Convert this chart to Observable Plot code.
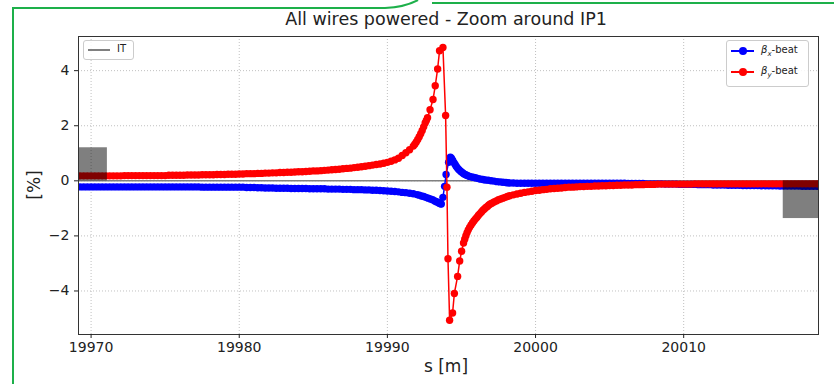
<!DOCTYPE html>
<html><head><meta charset="utf-8">
<script src="https://cdn.jsdelivr.net/npm/d3@7"></script>
<script src="https://cdn.jsdelivr.net/npm/@observablehq/plot@0.6"></script>
<style>
html,body{margin:0;padding:0;background:#fff;}
#wrap{position:relative;width:834px;height:384px;overflow:hidden;font-family:"DejaVu Sans",sans-serif;color:#222;}
#wrap svg{position:absolute;left:0;top:0;}
.lbl{position:absolute;white-space:nowrap;}
.legend{position:absolute;background:rgba(255,255,255,0.85);border:1px solid #cccccc;border-radius:3px;font-size:10px;}
.row{position:absolute;left:0;height:12px;}
.row .ln{position:absolute;top:5px;height:2px;}
.row .mk{position:absolute;top:2px;width:8px;height:8px;border-radius:50%;}
.row .tx{position:absolute;top:-1px;white-space:nowrap;}
</style></head><body><div id="wrap"></div>
<script>
// ---------- data ----------
const sLeft = [
  19969,19969.25,19969.5,19969.75, 19970,19970.25,19970.5,19970.75,
  19971,19971.25,19971.5,19971.75, 19972,19972.25,19972.5,19972.75,
  19973,19973.25,19973.5,19973.75, 19974,19974.25,19974.5,19974.75,
  19975,19975.25,19975.5,19975.75, 19976,19976.25,19976.5,19976.75,
  19977,19977.25,19977.5,19977.75, 19978,19978.25,19978.5,19978.75,
  19979,19979.25,19979.5,19979.75, 19980,19980.25,19980.5,19980.75,
  19981,19981.25,19981.5,19981.75, 19982,19982.25,19982.5,19982.75,
  19983,19983.25,19983.5,19983.75, 19984,19984.25,19984.5,19984.75,
  19985,19985.25,19985.5,19985.75, 19986,19986.25,19986.5,19986.75,
  19987,19987.25,19987.5,19987.75, 19988,19988.25,19988.5,19988.75,
  19989,19989.25,19989.5,19989.75, 19990,19990.25,19990.5,19990.75,
  19991,19991.25,19991.5,19991.75];
const sRight = [
  19998.25,19998.5,19998.75,
  19999,19999.25,19999.5,19999.75, 20000,20000.25,20000.5,20000.75,
  20001,20001.25,20001.5,20001.75, 20002,20002.25,20002.5,20002.75,
  20003,20003.25,20003.5,20003.75, 20004,20004.25,20004.5,20004.75,
  20005,20005.25,20005.5,20005.75, 20006,20006.25,20006.5,20006.75,
  20007,20007.25,20007.5,20007.75, 20008,20008.25,20008.5,20008.75,
  20009,20009.25,20009.5,20009.75, 20010,20010.25,20010.5,20010.75,
  20011,20011.25,20011.5,20011.75, 20012,20012.25,20012.5,20012.75,
  20013,20013.25,20013.5,20013.75, 20014,20014.25,20014.5,20014.75,
  20015,20015.25,20015.5,20015.75, 20016,20016.25,20016.5,20016.75,
  20017,20017.25,20017.5,20017.75, 20018,20018.25,20018.5,20018.75,
  20019,20019.25,20019.5,20019.75];

// beta_x-beat [%]
const betaXLeft = [
  -0.22,-0.22,-0.22,-0.22, -0.22,-0.22,-0.22,-0.22,
  -0.22,-0.22,-0.22,-0.22, -0.22,-0.22,-0.22,-0.22,
  -0.22,-0.22,-0.22,-0.22, -0.22,-0.22,-0.22,-0.22,
  -0.22,-0.22,-0.22,-0.22, -0.22,-0.22,-0.22,-0.22,
  -0.22,-0.22,-0.23,-0.23, -0.23,-0.23,-0.23,-0.23,
  -0.23,-0.23,-0.23,-0.23, -0.23,-0.23,-0.24,-0.24,
  -0.24,-0.25,-0.25,-0.26, -0.26,-0.26,-0.27,-0.27,
  -0.27,-0.27,-0.28,-0.28, -0.28,-0.28,-0.28,-0.29,
  -0.29,-0.29,-0.29,-0.29, -0.30,-0.30,-0.30,-0.30,
  -0.31,-0.31,-0.31,-0.32, -0.32,-0.32,-0.33,-0.33,
  -0.34,-0.34,-0.35,-0.36, -0.37,-0.38,-0.39,-0.40,
  -0.42,-0.43,-0.45,-0.47];
const sPeakX = [
  19992.0,19992.15,19992.3,19992.45,19992.6,19992.75,19992.9,19993.05,19993.2,19993.3,
  19993.4,19993.5,19993.58,19993.64,19993.75,19993.86,19993.96,19994.13,19994.25,19994.32,
  19994.4,19994.48,19994.56,19994.64,19994.72,19994.8,19994.88,19994.96,19995.05,19995.15,
  19995.25,19995.35,19995.45,19995.55,19995.7,19995.85,19996.0,19996.15,19996.3,19996.45,
  19996.6,19996.8,19997.0,19997.2,19997.4,19997.6,19997.8,19998.0,19998.1];
const betaXPeak = [
  -0.50,-0.52,-0.55,-0.57,-0.60,-0.63,-0.66,-0.69,-0.73,-0.76,
  -0.78,-0.81,-0.83,-0.84,-0.60,-0.20,0.23,0.67,0.86,0.82,
  0.75,0.67,0.60,0.53,0.47,0.42,0.38,0.34,0.30,0.26,
  0.23,0.20,0.18,0.16,0.14,0.12,0.10,0.08,0.06,0.05,
  0.03,0.02,0.00,-0.01,-0.03,-0.04,-0.05,-0.06,-0.07];
const betaXRight = [
  -0.08,-0.08,-0.09,
  -0.09,-0.09,-0.09,-0.09, -0.09,-0.09,-0.09,-0.09,
  -0.09,-0.09,-0.09,-0.09, -0.09,-0.09,-0.09,-0.09,
  -0.09,-0.09,-0.09,-0.09, -0.09,-0.09,-0.09,-0.09,
  -0.09,-0.09,-0.09,-0.09, -0.09,-0.10,-0.10,-0.10,
  -0.10,-0.10,-0.11,-0.11, -0.11,-0.11,-0.11,-0.12,
  -0.12,-0.12,-0.12,-0.13, -0.13,-0.13,-0.13,-0.13,
  -0.14,-0.14,-0.14,-0.14, -0.15,-0.15,-0.15,-0.15,
  -0.16,-0.16,-0.16,-0.16, -0.17,-0.17,-0.17,-0.17,
  -0.17,-0.18,-0.18,-0.18, -0.18,-0.18,-0.19,-0.19,
  -0.19,-0.19,-0.19,-0.19, -0.20,-0.20,-0.20,-0.20,
  -0.20,-0.20,-0.20,-0.20];

// beta_y-beat [%]
const betaYLeft = [
  0.18,0.18,0.18,0.18, 0.18,0.18,0.18,0.18,
  0.18,0.18,0.18,0.18, 0.18,0.19,0.19,0.19,
  0.19,0.19,0.19,0.19, 0.19,0.19,0.19,0.19,
  0.19,0.20,0.20,0.20, 0.20,0.20,0.21,0.21,
  0.21,0.21,0.22,0.22, 0.22,0.22,0.23,0.23,
  0.23,0.24,0.24,0.24, 0.25,0.25,0.26,0.26,
  0.26,0.27,0.27,0.28, 0.28,0.29,0.29,0.30,
  0.30,0.31,0.31,0.32, 0.33,0.33,0.34,0.35,
  0.36,0.36,0.37,0.38, 0.39,0.40,0.41,0.42,
  0.44,0.45,0.46,0.48, 0.49,0.51,0.53,0.55,
  0.57,0.59,0.61,0.64, 0.67,0.71,0.76,0.82,
  0.92,1.02,1.13,1.26];
const sPeakY = [
  19991.85,19991.95,19992.05,19992.15,19992.25,19992.35,19992.45,19992.55,19992.63,19992.71,
  19992.88,19993.08,19993.23,19993.39,19993.52,19993.75,19993.93,19994.02,19994.09,19994.2,
  19994.4,19994.52,19994.74,19994.88,19995.01,19995.14,19995.22,19995.3,19995.38,19995.46,
  19995.55,19995.65,19995.75,19995.85,19995.95,19996.05,19996.15,19996.25,19996.35,19996.45,
  19996.55,19996.65,19996.75,19996.85,19996.95,19997.05,19997.2,19997.35,19997.5,19997.65,
  19997.8,19997.95,19998.1];
const betaYPeak = [
  1.33,1.41,1.50,1.60,1.71,1.83,1.96,2.10,2.19,2.29,
  2.58,2.95,3.45,4.06,4.72,4.84,2.37,-0.23,-2.83,-5.06,
  -4.80,-4.09,-3.47,-2.91,-2.56,-2.26,-2.12,-1.99,-1.88,-1.78,
  -1.69,-1.60,-1.52,-1.45,-1.38,-1.32,-1.25,-1.19,-1.13,-1.07,
  -1.02,-0.97,-0.93,-0.88,-0.84,-0.81,-0.77,-0.73,-0.69,-0.66,
  -0.63,-0.60,-0.57];
const betaYRight = [
  -0.54,-0.51,-0.48,
  -0.45,-0.42,-0.40,-0.38, -0.35,-0.34,-0.32,-0.31,
  -0.29,-0.28,-0.27,-0.26, -0.24,-0.23,-0.23,-0.22,
  -0.21,-0.21,-0.20,-0.20, -0.19,-0.19,-0.18,-0.18,
  -0.17,-0.17,-0.16,-0.16, -0.15,-0.15,-0.15,-0.14,
  -0.14,-0.14,-0.13,-0.13, -0.13,-0.12,-0.12,-0.12,
  -0.12,-0.12,-0.12,-0.12, -0.12,-0.12,-0.12,-0.11,
  -0.11,-0.11,-0.11,-0.11, -0.11,-0.11,-0.11,-0.11,
  -0.11,-0.11,-0.11,-0.11, -0.11,-0.11,-0.11,-0.11,
  -0.11,-0.11,-0.11,-0.11, -0.11,-0.11,-0.11,-0.11,
  -0.11,-0.11,-0.11,-0.11, -0.11,-0.11,-0.11,-0.11,
  -0.11,-0.11,-0.11,-0.11];

// IT (inner triplet) patches
const itStart = [19968.5, 20016.72];
const itEnd = [19971.1, 20020.0];
const itHeight = [1.2, -1.37];

const xTicks = [19970, 19980, 19990, 20000, 20010];
const yTicks = [-4, -2, 0, 2, 4];
const titleText = "All wires powered - Zoom around IP1";
const xLabel = "s [m]";
const yLabel = "[%]";

// ---------- tables ----------
const sX = [...sLeft, ...sPeakX, ...sRight];
const vX = [...betaXLeft, ...betaXPeak, ...betaXRight];
const sY = [...sLeft, ...sPeakY, ...sRight];
const vY = [...betaYLeft, ...betaYPeak, ...betaYRight];
const bx = sX.map((s, i) => ({s, v: vX[i]}));
const by = sY.map((s, i) => ({s, v: vY[i]}));
const it = itStart.map((a, i) => ({x1: a, x2: itEnd[i], y1: 0, y2: itHeight[i]}));

const fmt = d => d < 0 ? "\u2212" + Math.abs(d) : String(d);
const gridStyle = {stroke: "#b0b0b0", strokeOpacity: 1, strokeWidth: 0.8, strokeDasharray: "1,2"};

const chart = Plot.plot({
  width: 834, height: 384,
  marginLeft: 78, marginRight: 16, marginTop: 36, marginBottom: 50,
  x: {domain: [19969.15, 20019.1]},
  y: {domain: [-5.58, 5.24]},
  style: {fontFamily: "DejaVu Sans", fontSize: "14px", color: "#222", background: "transparent"},
  marks: [
    Plot.gridX(xTicks, gridStyle),
    Plot.gridY(yTicks, gridStyle),
    Plot.ruleY([0], {stroke: "#808080", strokeWidth: 1.5}),
    Plot.line(bx, {x: "s", y: "v", stroke: "#0000ff", strokeWidth: 1.5, clip: true}),
    Plot.dot(bx, {x: "s", y: "v", r: 3.7, fill: "#0000ff", stroke: "none", clip: true}),
    Plot.line(by, {x: "s", y: "v", stroke: "#ff0000", strokeWidth: 1.5, clip: true}),
    Plot.dot(by, {x: "s", y: "v", r: 3.7, fill: "#ff0000", stroke: "none", clip: true}),
    Plot.rect(it, {x1: "x1", x2: "x2", y1: "y1", y2: "y2", fill: "black", fillOpacity: 0.5, clip: true}),
    Plot.frame({stroke: "#333", strokeWidth: 1}),
    Plot.axisX(xTicks, {tickSize: 4, tickPadding: 4, tickFormat: fmt, label: null, fontSize: 14}),
    Plot.axisY(yTicks, {tickSize: 4, tickPadding: 5, tickFormat: fmt, label: null, fontSize: 14})
  ]
});

const wrap = document.getElementById("wrap");
wrap.appendChild(chart);

function addText(txt, css) {
  const d = document.createElement("div");
  d.className = "lbl";
  d.textContent = txt;
  Object.assign(d.style, css);
  wrap.appendChild(d);
  return d;
}
addText(titleText, {left: "446px", top: "9px", transform: "translateX(-50%)", fontSize: "17.5px"});
addText(xLabel, {left: "446px", top: "356px", transform: "translateX(-50%)", fontSize: "17px"});
addText(yLabel, {left: "34px", top: "185px", transform: "translate(-50%,-50%) rotate(-90deg)", fontSize: "17px"});

// legends
function legend(box, entries) {
  const L = document.createElement("div");
  L.className = "legend";
  Object.assign(L.style, box);
  entries.forEach(e => {
    const r = document.createElement("div");
    r.className = "row";
    r.style.top = e.top + "px";
    r.style.width = "100%";
    r.innerHTML = `<div class="ln" style="left:${e.l0}px;width:${e.lw}px;background:${e.color}"></div>` +
      (e.marker ? `<div class="mk" style="left:${e.l0 + e.lw/2 - 4}px;background:${e.color}"></div>` : "") +
      `<div class="tx" style="left:${e.tx}px">${e.html}</div>`;
    L.appendChild(r);
  });
  wrap.appendChild(L);
}
legend({left: "83px", top: "40px", width: "49px", height: "18px"},
  [{top: 3, l0: 4, lw: 22, color: "#808080", marker: false, tx: 33, html: "IT"}]);
legend({left: "726px", top: "40px", width: "81px", height: "45px"},
  [{top: 4, l0: 4, lw: 23, color: "#0000ff", marker: true, tx: 34, html: "<i>β<sub style='font-size:7px'>x</sub></i>-beat"},
   {top: 25, l0: 4, lw: 23, color: "#ff0000", marker: true, tx: 34, html: "<i>β<sub style='font-size:7px'>y</sub></i>-beat"}]);

// green frame of the screenshot
const ov = d3.select(wrap).append("svg").attr("width", 834).attr("height", 384)
  .style("position", "absolute").style("left", 0).style("top", 0).style("pointer-events", "none");
ov.append("path").attr("d", "M13,384 V8 H385 Q405,7 418,0 M432,3 H834")
  .attr("fill", "none").attr("stroke", "#1db04a").attr("stroke-width", 2);
</script></body></html>
